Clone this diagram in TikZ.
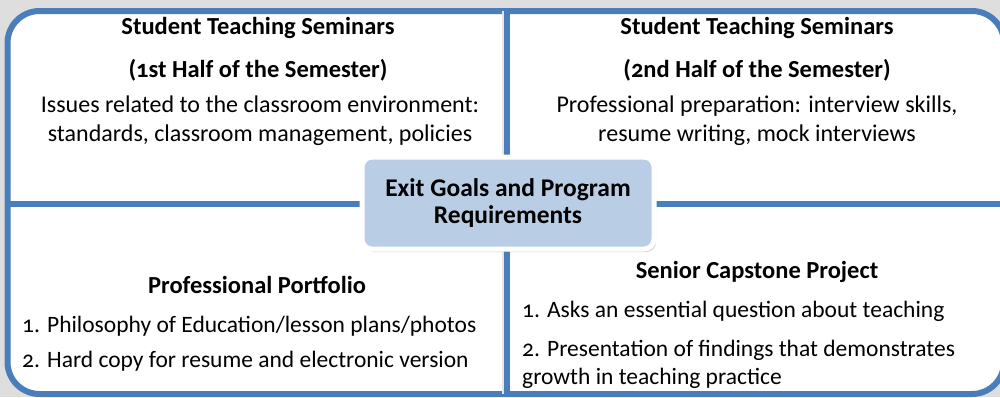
\documentclass[tikz,border=0pt]{standalone}
\usepackage{fontspec}
\setmainfont{Carlito}[Numbers=OldStyle]
\usetikzlibrary{shadows}
\definecolor{lineblue}{HTML}{4A7EBB}
\definecolor{goalblue}{HTML}{B9CDE5}
\definecolor{pagegray}{HTML}{DEDEDE}

\begin{document}
\begin{tikzpicture}[x=1pt,y=-1pt,font=\fontsize{24}{29}\selectfont]

    % `head' is used for the quadrant titles.
    % `body' and `item' hold the text under them.
    % `goal' is the box in the middle.
    \tikzstyle{head} = [inner sep=0pt,font=\fontsize{24.5}{29}\selectfont\bfseries]
    \tikzstyle{body} = [inner sep=0pt,align=center]
    \tikzstyle{item} = [inner sep=0pt,anchor=west,align=left,font=\fontsize{23.5}{28}\selectfont]
    \tikzstyle{goal} = [draw=white,line width=5pt,fill=goalblue,rounded corners=10pt,
      minimum width=292pt,minimum height=92pt,align=center,
      drop shadow={shadow xshift=2pt,shadow yshift=-3pt,opacity=0.35},
      font=\fontsize{25.5}{27}\selectfont\bfseries]
    %
    \useasboundingbox (0,0) rectangle (1000,397);
    \clip (0,0) rectangle (1000,397);
    \fill[pagegray] (0,0) rectangle (1000,397);

    % Frame and dividers.
    \draw[lineblue,line width=6pt,fill=white,rounded corners=32pt] (7.5,11) rectangle (1004,394);
    \coordinate (top) at (507,11);
    \coordinate (bottom) at (507,394);
    \coordinate (left) at (7.5,204);
    \coordinate (right) at (1004,204);
    \draw[black!10,line width=2pt] ([xshift=-4pt]top) -- ([xshift=-4pt]bottom);
    \draw[lineblue,line width=6pt] (top) -- (bottom) (left) -- (right);

    % First quadrant.
    \node[head] (tlhead) at (258,28) {Student Teaching Seminars};
    \node[head] (tlsub) at (258,70) {(1st Half of the Semester)};
    \node[body] (tlbody) at (260,120.5) {Issues related to the classroom environment:\\
      standards, classroom management, policies};

    % Second quadrant.
    \node[head] (trhead) at (757,28) {Student Teaching Seminars};
    \node[head] (trsub) at (757,70) {(2nd Half of the Semester)};
    \node[body] (trbody) at (757,120.5) {Professional preparation: interview skills,\\
      resume writing, mock interviews};

    % Third quadrant.
    \node[head] (blhead) at (257,285) {Professional Portfolio};
    \node[item] (blone) at (22,326) {1. Philosophy of Education/lesson plans/photos};
    \node[item] (bltwo) at (22,361) {2. Hard copy for resume and electronic version};

    % Fourth quadrant.
    \node[head] (brhead) at (757,272) {Senior Capstone Project};
    \node[item] (brone) at (522,311) {1. Asks an essential question about teaching};
    \node[item] (brtwo) at (522,364) {2. Presentation of findings that demonstrates\\
      growth in teaching practice};

    % Middle.
    \node[goal] (exit) at (508,203) {Exit Goals and Program\\Requirements};
    %
    \end{tikzpicture}
\end{document}
